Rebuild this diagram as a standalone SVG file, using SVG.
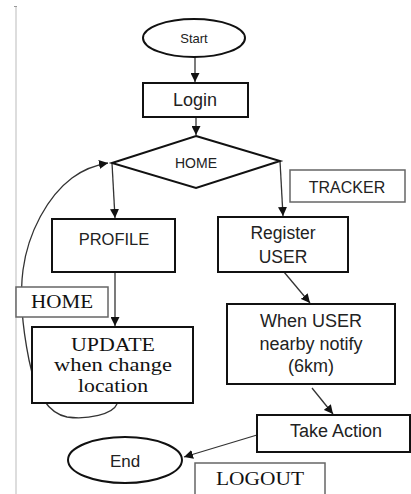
<svg xmlns="http://www.w3.org/2000/svg" width="411" height="494" viewBox="0 0 411 494">
  <defs>
    <marker id="arrow" viewBox="0 0 10 10" refX="10" refY="5" markerWidth="9" markerHeight="9" markerUnits="userSpaceOnUse" orient="auto">
      <path d="M0,0 L10,5 L0,10 Z" fill="#111"/>
    </marker>
    <style>
      .shape { fill: #fff; stroke: #111; stroke-width: 2; }
      .tag { fill: #fff; stroke: #666; stroke-width: 1.5; }
      .edge { fill: none; stroke: #333; stroke-width: 1.3; marker-end: url(#arrow); }
      .sans { font-family: "Liberation Sans", Arial, sans-serif; fill: #222; text-anchor: middle; }
      .serif { font-family: "Liberation Serif", "Times New Roman", serif; fill: #111; text-anchor: middle; }
    </style>
  </defs>

  <rect width="411" height="494" fill="#fff"/>
  <!-- page margin line -->
  <line x1="16" y1="7" x2="16" y2="494" stroke="#bbb" stroke-width="1"/>
  <line x1="14" y1="6.5" x2="17" y2="6.5" stroke="#999" stroke-width="1"/>

  <g id="connectors">
    <line class="edge" x1="195" y1="57" x2="195" y2="82"/>
    <line class="edge" x1="196" y1="117" x2="196" y2="135"/>
    <line class="edge" x1="112" y1="163" x2="115" y2="218"/>
    <line class="edge" x1="280" y1="161" x2="283" y2="216"/>
    <line class="edge" x1="115" y1="272" x2="115" y2="326"/>
    <line class="edge" x1="284" y1="272" x2="310" y2="303"/>
    <line class="edge" x1="312" y1="388" x2="333" y2="414"/>
    <line class="edge" x1="257" y1="435" x2="184" y2="457"/>
    <!-- loop back from UPDATE to HOME -->
    <path class="edge" d="M117,404 C113,414 88,420 67,417 C47,413 35,390 29,360 C23,330 19,300 23,270 C28,232 48,196 72,178 C84,169 96,165 108,163"/>
  </g>

  <g id="start">
    <ellipse class="shape" cx="194" cy="38" rx="51" ry="19"/>
    <text class="sans" x="194" y="43" font-size="13">Start</text>
  </g>

  <g id="login">
    <rect class="shape" x="143" y="83" width="105" height="34"/>
    <text class="sans" x="195" y="106" font-size="18">Login</text>
  </g>

  <g id="home">
    <polygon class="shape" points="196,136 280,161 196,188 112,163"/>
    <text class="sans" x="196" y="168" font-size="14">HOME</text>
  </g>

  <g id="tracker-label">
    <rect class="tag" x="290" y="170" width="115" height="32"/>
    <text class="sans" x="347" y="193" font-size="16">TRACKER</text>
  </g>

  <g id="profile">
    <rect class="shape" x="52" y="219" width="123" height="53"/>
    <text class="sans" x="114" y="245" font-size="16.5">PROFILE</text>
  </g>

  <g id="register-user">
    <rect class="shape" x="218" y="217" width="130" height="55"/>
    <text class="sans" x="283" y="239" font-size="17.5">Register</text>
    <text class="sans" x="283" y="263" font-size="17.5">USER</text>
  </g>

  <g id="home-label">
    <rect class="tag" x="16" y="287" width="92" height="30"/>
    <text class="serif" x="62" y="308" font-size="18" textLength="62" lengthAdjust="spacingAndGlyphs">HOME</text>
  </g>

  <g id="update">
    <rect class="shape" x="32" y="327" width="161" height="76"/>
    <text class="serif" x="113" y="351" font-size="18.5" textLength="84" lengthAdjust="spacingAndGlyphs">UPDATE</text>
    <text class="serif" x="113" y="371" font-size="18.5" textLength="118" lengthAdjust="spacingAndGlyphs">when change</text>
    <text class="serif" x="113" y="392" font-size="18.5" textLength="70" lengthAdjust="spacingAndGlyphs">location</text>
  </g>

  <g id="notify">
    <rect class="shape" x="227" y="304" width="168" height="80"/>
    <text class="sans" x="311" y="327" font-size="18">When USER</text>
    <text class="sans" x="311" y="350" font-size="18">nearby notify</text>
    <text class="sans" x="311" y="372" font-size="18">(6km)</text>
  </g>

  <g id="take-action">
    <rect class="shape" x="257" y="415" width="153" height="37"/>
    <text class="sans" x="336" y="437" font-size="18">Take Action</text>
  </g>

  <g id="end">
    <ellipse class="shape" cx="125" cy="460" rx="57" ry="23"/>
    <text class="sans" x="125" y="467" font-size="17">End</text>
  </g>

  <g id="logout-label">
    <rect class="tag" x="195" y="463" width="130" height="34"/>
    <text class="serif" x="260" y="485" font-size="18.5" textLength="88" lengthAdjust="spacingAndGlyphs">LOGOUT</text>
  </g>
</svg>
